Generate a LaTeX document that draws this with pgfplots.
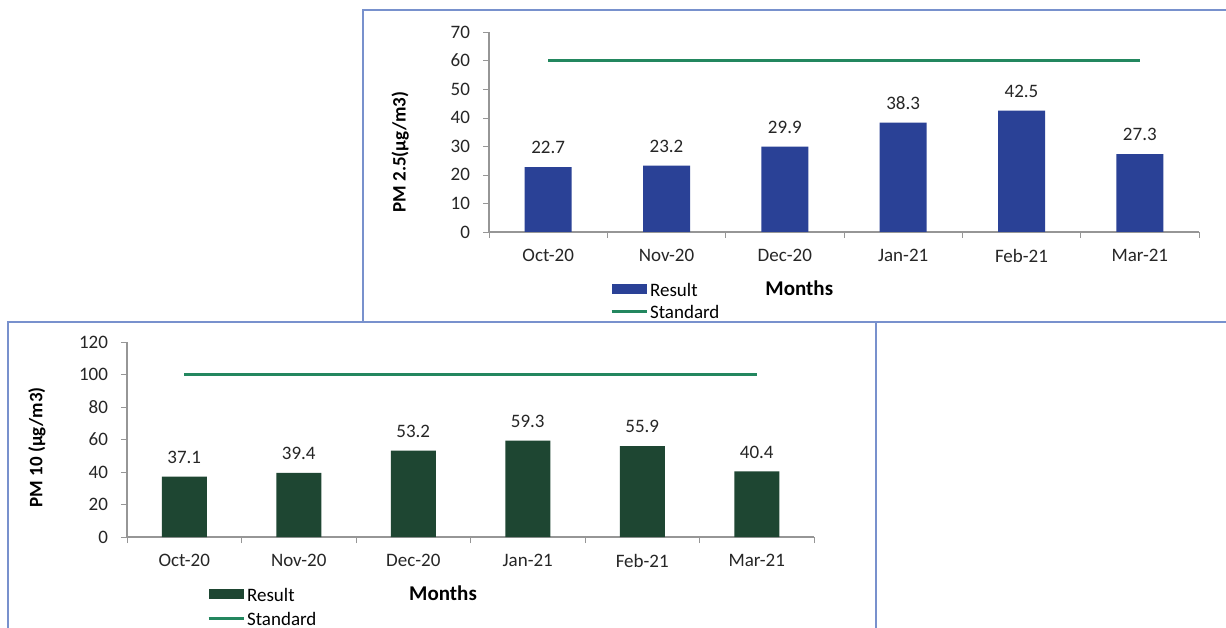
\documentclass[border=0pt]{standalone}
\usepackage{pgfplots}
\pgfplotsset{compat=1.18}
\usepackage{fontspec}
\setmainfont{Carlito}
\definecolor{barblue}{RGB}{42,65,150}
\definecolor{bargreen}{RGB}{30,70,50}
\definecolor{stdgreen}{RGB}{35,135,95}
\definecolor{framecol}{RGB}{120,145,205}
\definecolor{axgray}{RGB}{150,150,150}

\pgfplotsset{
  pmaxis/.style={
    scale only axis,
    xmin=-0.5, xmax=5.5, ymin=0,
    axis lines*=left,
    axis line style={axgray, line width=0.6pt},
    xtick={0,...,5},
    xticklabels={Oct-20,Nov-20,Dec-20,Jan-21,Feb-21,Mar-21},
    minor xtick={-0.5,0.5,...,5.5},
    tick align=outside,
    major x tick style={draw=none},
    minor x tick style={axgray},
    y tick style={axgray},
    major tick length=3pt, minor tick length=3pt,
    tick label style={font=\fontsize{9.5}{11}\selectfont, text=black!85},
    /pgf/number format/assume math mode=true,
    xticklabel style={yshift=-2pt},
    yticklabel style={xshift=-3pt},
    ylabel style={font=\bfseries\fontsize{9.5}{11}\selectfont, anchor=center},
    xlabel style={font=\bfseries\fontsize{10.5}{13}\selectfont, anchor=center},
    legend style={draw=none, fill=none, font=\fontsize{9.5}{11}\selectfont, inner sep=0pt,
      nodes={inner sep=1pt, text height=7pt, text depth=2pt}},
    legend cell align=left,
    clip=false,
    nodes near coords style={font=\fontsize{9.5}{12}\selectfont, text=black!85},
  },
  barlegend/.style={legend image code/.code={\fill[##1] (0pt,-1.5pt) rectangle (17.5pt,3.5pt);}},
  linelegend/.style={legend image code/.code={\draw[##1] (0pt,1pt) -- (17.5pt,1pt);}},
}

\begin{document}
\begin{tikzpicture}
\useasboundingbox (0,0) rectangle (613pt,313.5pt);
\fill[white] (0,0) rectangle (613pt,313.5pt);
% frames
\draw[framecol, line width=1pt] (620pt,308.5pt) -- (181.5pt,308.5pt) -- (181.5pt,152.5pt) -- (620pt,152.5pt);
\draw[framecol, line width=1pt] (4pt,-5pt) -- (4pt,152.5pt) -- (438pt,152.5pt) -- (438pt,-5pt);

% top chart: PM 2.5
\begin{axis}[pmaxis,
  at={(244.5pt,197.5pt)}, anchor=south west,
  width=355pt, height=100pt,
  ymax=70, ytick={0,10,...,70},
  ylabel={PM 2.5(µg/m3)},
  ylabel style={at={(axis description cs:-0.125,0.4)}},
  xlabel={Months},
  xlabel style={at={(axis description cs:0.437,-0.28)}},
  legend style={at={(axis description cs:0.17,-0.24)}, anchor=north west, row sep=0pt},
]
\addplot[ybar, bar width=23.5pt, fill=barblue, draw=none, barlegend,
  nodes near coords, every node near coord/.append style={yshift=3pt},
  point meta=explicit symbolic]
  coordinates {(0,22.7)[22.7] (1,23.2)[23.2] (2,29.9)[29.9] (3,38.3)[38.3] (4,42.5)[42.5] (5,27.3)[27.3]};
\addlegendentry{Result}
\addplot[sharp plot, stdgreen, line width=1.5pt, linelegend, mark=none]
  coordinates {(0,60) (5,60)};
\addlegendentry{Standard}
\end{axis}

% bottom chart: PM 10
\begin{axis}[pmaxis,
  at={(63.5pt,45pt)}, anchor=south west,
  width=343.5pt, height=97.5pt,
  ymax=120, ytick={0,20,...,120},
  ylabel={PM 10 (µg/m3)},
  ylabel style={at={(axis description cs:-0.131,0.46)}},
  xlabel={Months},
  xlabel style={at={(axis description cs:0.46,-0.287)}},
  legend style={at={(axis description cs:0.116,-0.245)}, anchor=north west, row sep=1pt},
]
\addplot[ybar, bar width=22.5pt, fill=bargreen, draw=none, barlegend,
  nodes near coords, every node near coord/.append style={yshift=3pt},
  point meta=explicit symbolic]
  coordinates {(0,37.1)[37.1] (1,39.4)[39.4] (2,53.2)[53.2] (3,59.3)[59.3] (4,55.9)[55.9] (5,40.4)[40.4]};
\addlegendentry{Result}
\addplot[sharp plot, stdgreen, line width=1.5pt, linelegend, mark=none]
  coordinates {(0,100) (5,100)};
\addlegendentry{Standard}
\end{axis}
\end{tikzpicture}
\end{document}
